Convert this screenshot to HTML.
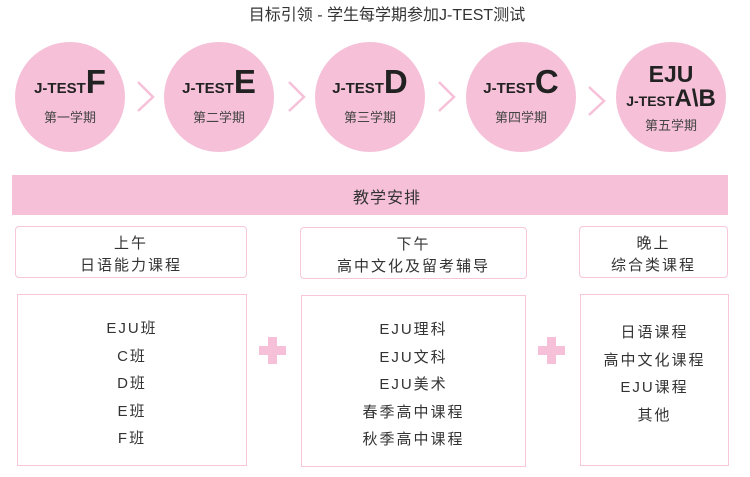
<!DOCTYPE html>
<html><head><meta charset="utf-8"><style>
body{margin:0;width:750px;height:477px;background:#fff;position:relative;overflow:hidden;font-family:"Liberation Sans","Noto Sans CJK SC",sans-serif;color:#333}
.a{position:absolute}
.c{position:absolute;width:110px;height:110px;border-radius:50%;background:#f6c1d8;top:42px;text-align:center}
.j{font-weight:bold;font-size:15px;color:#222}
.big{font-weight:bold;font-size:33px;color:#222}
.sub{font-size:13px;color:#444}
.box{position:absolute;border:1.5px solid #f7c6da;box-sizing:border-box;text-align:center;font-size:15px;letter-spacing:2px;color:#333}
.hb{border-radius:4px;line-height:22px;padding-top:6px}
.plus{position:absolute;width:27px;height:27px}
.plus:before{content:"";position:absolute;left:0;top:9px;width:27px;height:9px;background:#f6c1d8}
.plus:after{content:"";position:absolute;left:9px;top:0;width:9px;height:27px;background:#f6c1d8}
</style></head><body>
<div class="a" style="left:0;width:774px;top:1px;text-align:center;font-size:16px;color:#333">目标引领 - 学生每学期参加J-TEST测试</div>

<div class="c" style="left:15px"><div style="margin-top:22px;line-height:36px"><span class="j">J-TEST</span><span class="big">F</span></div><div class="sub">第一学期</div></div>
<div class="c" style="left:164px"><div style="margin-top:22px;line-height:36px"><span class="j">J-TEST</span><span class="big">E</span></div><div class="sub">第二学期</div></div>
<div class="c" style="left:315px"><div style="margin-top:22px;line-height:36px"><span class="j">J-TEST</span><span class="big">D</span></div><div class="sub">第三学期</div></div>
<div class="c" style="left:466px"><div style="margin-top:22px;line-height:36px"><span class="j">J-TEST</span><span class="big">C</span></div><div class="sub">第四学期</div></div>
<div class="c" style="left:616px"><div style="margin-top:20px;line-height:24px;font-weight:bold;font-size:23px;color:#222">EJU</div><div style="line-height:26px"><span class="j" style="font-size:14px">J-TEST</span><span style="font-weight:bold;font-size:24px;color:#222">A\B</span></div><div class="sub">第五学期</div></div>

<svg class="a" style="left:0;top:0" width="750" height="160">
<g fill="none" stroke="#f6c1d8" stroke-width="2.5">
<polyline points="138,82 153,97 138,111"/>
<polyline points="289,82 304,97 289,111"/>
<polyline points="439,82 454,97 439,111"/>
<polyline points="589,87 604,101 589,115"/>
</g></svg>

<div class="a" style="left:12px;top:175px;width:716px;height:40px;background:#f6c1d8"></div>
<div class="a" style="left:353px;top:184px;font-size:16px;letter-spacing:1px;color:#333">教学安排</div>

<div class="box hb" style="left:15px;top:226px;width:232px;height:52px">上午<br>日语能力课程</div>
<div class="box hb" style="left:300px;top:227px;width:227px;height:52px">下午<br>高中文化及留考辅导</div>
<div class="box hb" style="left:579px;top:226px;width:149px;height:52px">晚上<br>综合类课程</div>

<div class="box" style="left:17px;top:294px;width:230px;height:172px;padding-top:20px;line-height:27.5px">EJU班<br>C班<br>D班<br>E班<br>F班</div>
<div class="box" style="left:301px;top:295px;width:225px;height:172px;padding-top:20px;line-height:27.5px">EJU理科<br>EJU文科<br>EJU美术<br>春季高中课程<br>秋季高中课程</div>
<div class="box" style="left:580px;top:294px;width:149px;height:172px;padding-top:24px;line-height:27.5px">日语课程<br>高中文化课程<br>EJU课程<br>其他</div>

<div class="plus" style="left:259px;top:337px"></div>
<div class="plus" style="left:538px;top:337px"></div>
</body></html>
